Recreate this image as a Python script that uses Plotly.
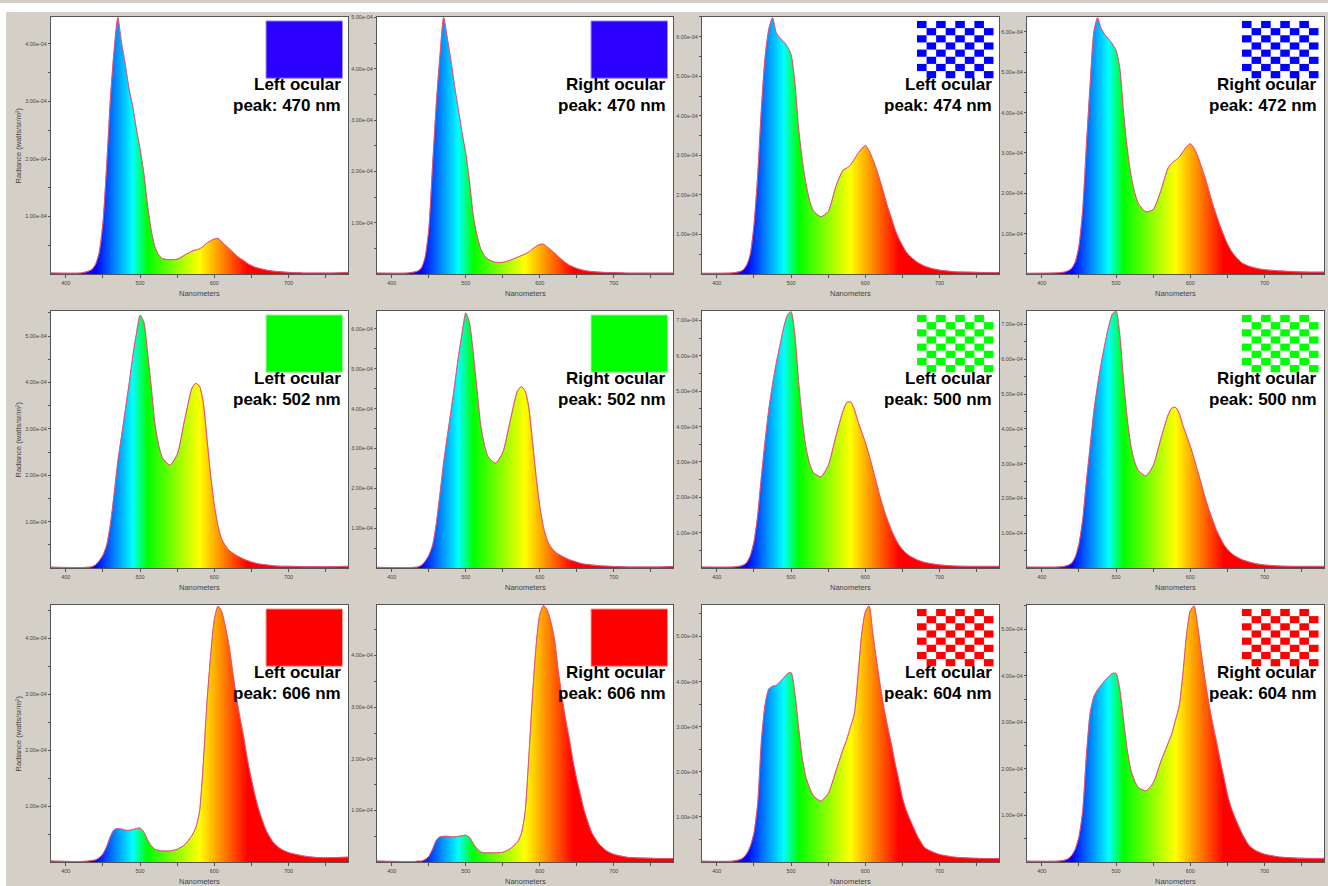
import numpy as np
import plotly.graph_objects as go

W, H = 1328, 886

# ---------------- data (radiance in units of 1e-4 W/sr/m^2) ----------------
WAVELENGTHS = [380, 420, 430, 435, 440, 445, 450, 455, 460, 465,
               470, 475, 480, 485, 490, 495, 500, 505, 510, 515,
               520, 525, 530, 540, 550, 560, 570, 575, 580, 585,
               590, 595, 600, 605, 610, 615, 620, 625, 630, 635,
               640, 645, 650, 655, 660, 670, 680, 690, 700, 720,
               740, 760, 780]

BLUE_LEFT = [0.02, 0.02, 0.05, 0.08, 0.17, 0.38, 0.9, 1.9, 3.05, 3.9,
             4.46, 4.02, 3.65, 3.23, 2.92, 2.52, 2.17, 1.75, 1.2, 0.76,
             0.47, 0.33, 0.27, 0.25, 0.26, 0.33, 0.40, 0.42, 0.44, 0.48,
             0.54, 0.58, 0.61, 0.62, 0.56, 0.5, 0.44, 0.38, 0.32, 0.27,
             0.23, 0.18, 0.15, 0.12, 0.10, 0.07, 0.05, 0.04, 0.03, 0.02,
             0.02, 0.02, 0.03]
BLUE_RIGHT = [0.02, 0.02, 0.04, 0.06, 0.12, 0.33, 0.88, 2.1, 3.3, 4.25,
              5.0, 4.6, 4.15, 3.65, 3.2, 2.75, 2.35, 1.8, 1.15, 0.76,
              0.5, 0.36, 0.29, 0.23, 0.23, 0.27, 0.33, 0.36, 0.39, 0.43,
              0.49, 0.54, 0.58, 0.58, 0.53, 0.47, 0.41, 0.34, 0.28, 0.22,
              0.17, 0.14, 0.11, 0.09, 0.07, 0.05, 0.04, 0.03, 0.03, 0.02,
              0.02, 0.02, 0.02]
BLUE_CHK_LEFT = [0.02, 0.03, 0.06, 0.1, 0.22, 0.5, 1.25, 2.5, 4.2, 5.5,
                 6.2, 6.48, 6.1, 5.97, 5.88, 5.75, 5.55, 4.85, 3.7, 2.88,
                 2.28, 1.85, 1.6, 1.45, 1.58, 2.2, 2.63, 2.68, 2.76, 2.9,
                 3.05, 3.17, 3.25, 3.12, 2.9, 2.65, 2.35, 2.03, 1.7, 1.42,
                 1.13, 0.9, 0.72, 0.56, 0.45, 0.3, 0.2, 0.14, 0.1, 0.06,
                 0.05, 0.04, 0.04]
BLUE_CHK_RIGHT = [0.02, 0.03, 0.05, 0.08, 0.14, 0.3, 0.7, 1.6, 3.2, 4.7,
                  6.0, 6.35, 6.08, 5.93, 5.82, 5.7, 5.54, 5.1, 4.0, 3.1,
                  2.45, 2.02, 1.75, 1.54, 1.6, 2.05, 2.63, 2.75, 2.82, 2.9,
                  3.03, 3.16, 3.23, 3.12, 2.92, 2.65, 2.38, 2.06, 1.74, 1.46,
                  1.2, 0.96, 0.74, 0.58, 0.45, 0.27, 0.19, 0.14, 0.11, 0.08,
                  0.06, 0.05, 0.05]
GREEN_LEFT = [0.02, 0.01, 0.02, 0.03, 0.07, 0.16, 0.28, 0.5, 0.95, 1.6,
              2.3, 2.85, 3.4, 3.95, 4.55, 5.05, 5.45, 5.3, 4.65, 3.9,
              3.1, 2.65, 2.38, 2.22, 2.45, 3.2, 3.88, 3.98, 3.92, 3.58,
              2.8, 2.0, 1.35, 0.9, 0.62, 0.48, 0.38, 0.32, 0.27, 0.23,
              0.19, 0.16, 0.13, 0.11, 0.09, 0.07, 0.05, 0.04, 0.04, 0.03,
              0.03, 0.03, 0.04]
GREEN_RIGHT = [0.02, 0.01, 0.02, 0.03, 0.07, 0.17, 0.32, 0.57, 1.1, 1.85,
               2.65, 3.3, 3.95, 4.6, 5.3, 5.9, 6.4, 6.15, 5.4, 4.5,
               3.6, 3.1, 2.8, 2.63, 2.9, 3.7, 4.45, 4.55, 4.45, 4.05,
               3.2, 2.3, 1.55, 1.02, 0.7, 0.53, 0.42, 0.35, 0.3, 0.25,
               0.21, 0.18, 0.15, 0.12, 0.1, 0.08, 0.06, 0.05, 0.04, 0.03,
               0.03, 0.03, 0.04]
GREEN_CHK_LEFT = [0.03, 0.03, 0.05, 0.08, 0.15, 0.35, 0.75, 1.5, 2.6, 3.6,
                  4.5, 5.2, 5.8, 6.3, 6.8, 7.15, 7.25, 6.6, 5.3, 4.2,
                  3.4, 2.95, 2.7, 2.58, 2.9, 3.7, 4.45, 4.68, 4.7, 4.5,
                  4.15, 3.85, 3.55, 3.2, 2.8, 2.4, 2.0, 1.65, 1.35, 1.08,
                  0.85, 0.66, 0.52, 0.42, 0.34, 0.23, 0.16, 0.12, 0.09, 0.06,
                  0.05, 0.05, 0.05]
GREEN_CHK_RIGHT = [0.03, 0.03, 0.05, 0.08, 0.14, 0.32, 0.7, 1.4, 2.5, 3.5,
                   4.5, 5.25, 5.9, 6.45, 6.95, 7.3, 7.38, 6.7, 5.4, 4.3,
                   3.5, 3.05, 2.8, 2.65, 2.95, 3.7, 4.4, 4.6, 4.62, 4.45,
                   4.1, 3.8, 3.5, 3.15, 2.78, 2.4, 2.02, 1.68, 1.38, 1.1,
                   0.88, 0.68, 0.54, 0.43, 0.35, 0.24, 0.17, 0.12, 0.09, 0.06,
                   0.05, 0.05, 0.05]
RED_LEFT = [0.02, 0.01, 0.02, 0.03, 0.04, 0.08, 0.15, 0.28, 0.46, 0.58,
            0.6, 0.59, 0.57, 0.57, 0.58, 0.6, 0.61, 0.54, 0.4, 0.29,
            0.23, 0.21, 0.2, 0.2, 0.23, 0.31, 0.48, 0.62, 0.9, 1.75,
            2.85, 3.7, 4.35, 4.58, 4.48, 4.2, 3.85, 3.38, 2.92, 2.55,
            2.2, 1.8, 1.48, 1.18, 0.93, 0.56, 0.34, 0.23, 0.17, 0.11,
            0.08, 0.08, 0.09]
RED_RIGHT = [0.02, 0.01, 0.01, 0.02, 0.02, 0.05, 0.11, 0.25, 0.42, 0.49,
             0.5, 0.5, 0.49, 0.49, 0.5, 0.51, 0.52, 0.48, 0.36, 0.26,
             0.2, 0.18, 0.18, 0.18, 0.19, 0.26, 0.39, 0.55, 0.95, 2.0,
             3.2, 4.2, 4.8, 4.97, 4.88, 4.65, 4.3, 3.7, 3.2, 2.75,
             2.38, 1.95, 1.6, 1.3, 1.0, 0.58, 0.35, 0.22, 0.15, 0.09,
             0.08, 0.07, 0.07]
RED_CHK_LEFT = [0.02, 0.02, 0.05, 0.09, 0.18, 0.35, 0.65, 1.3, 2.7, 3.5,
                3.84, 3.9, 3.92, 4.0, 4.08, 4.18, 4.2, 3.75, 3.0, 2.3,
                1.88, 1.64, 1.47, 1.35, 1.52, 2.0, 2.5, 2.72, 3.0, 3.27,
                4.1, 5.05, 5.55, 5.68, 5.08, 4.48, 3.92, 3.42, 3.0, 2.62,
                2.2, 1.82, 1.42, 1.15, 0.95, 0.58, 0.32, 0.23, 0.17, 0.11,
                0.09, 0.08, 0.08]
RED_CHK_RIGHT = [0.02, 0.02, 0.04, 0.07, 0.14, 0.28, 0.55, 1.1, 2.3, 3.2,
                 3.55, 3.7, 3.8, 3.9, 3.98, 4.05, 4.05, 3.7, 3.05, 2.4,
                 1.97, 1.74, 1.6, 1.53, 1.7, 2.15, 2.55, 2.75, 3.05, 3.35,
                 4.05, 4.9, 5.4, 5.5, 5.05, 4.45, 3.9, 3.4, 2.98, 2.6,
                 2.2, 1.83, 1.45, 1.17, 0.96, 0.6, 0.34, 0.23, 0.17, 0.11,
                 0.09, 0.08, 0.08]

SERIES = [BLUE_LEFT, BLUE_RIGHT, BLUE_CHK_LEFT, BLUE_CHK_RIGHT,
          GREEN_LEFT, GREEN_RIGHT, GREEN_CHK_LEFT, GREEN_CHK_RIGHT,
          RED_LEFT, RED_RIGHT, RED_CHK_LEFT, RED_CHK_RIGHT]
EYES = ["Left ocular", "Right ocular"] * 6
PEAKS = [470, 470, 474, 472, 502, 502, 500, 500, 606, 606, 604, 604]
STIM_COLORS = ["#2B00FF", "#2B00FF", "#0000FF", "#0000FF",
               "#00FF00", "#00FF00", "#00FF00", "#00FF00",
               "#FF0000", "#FF0000", "#FF0000", "#FF0000"]
STIM_EDGE = ["#9A8FFF", "#9A8FFF", None, None,
             "#9AFF9A", "#9AFF9A", None, None,
             "#FF9A9A", "#FF9A9A", None, None]
STIM_PATTERN = ["solid", "solid", "checker", "checker"] * 3
YMAX = [4.47, 5.01, 6.5, 6.37, 5.54, 6.45, 7.27, 7.39, 4.6, 4.98, 5.7, 5.52]
UNIT = 1e-4

X_TICKS = [400, 450, 500, 550, 600, 650, 700, 750]
X_TICK_TEXT = ["400", "", "500", "", "600", "", "700", ""]
X_TITLE = "Nanometers"
Y_TITLE = "Radiance (watts/sr/m²)"

# spectral colour map (wavelength -> RGB)
SPEC_WL = [380, 420, 440, 490, 510, 580, 645, 780]
SPEC_RGB = ["rgb(110,0,150)", "rgb(90,0,255)", "rgb(0,0,255)", "rgb(0,255,255)",
            "rgb(0,255,0)", "rgb(255,255,0)", "rgb(255,0,0)", "rgb(255,0,0)"]

# ---------------- layout geometry (pixels) ----------------
COL_PX = [(51, 348), (377, 673), (702, 999), (1027, 1324)]
ROW_PX = [(14, 272), (309, 567), (604, 862)]

BG = "#D4D0C8"
TICK_FONT = dict(family="Liberation Sans, Arial", size=5.5, color="#444444")
AX_FONT = dict(family="Liberation Sans, Arial", size=7.5, color="#444444")
LBL_FONT = dict(family="Liberation Sans, Arial", size=17, color="#000000")
OUTLINE = "rgb(228,80,120)"


def px(x):
    return x / W


def py(y):
    return 1 - y / H


colorscale = [[(w - 380) / 400, c] for w, c in zip(SPEC_WL, SPEC_RGB)]
grid = np.arange(379, 782, 1.0)

fig = go.Figure()
layout = dict(width=W, height=H, margin=dict(l=0, r=0, t=0, b=0),
              paper_bgcolor=BG, plot_bgcolor="white", showlegend=False)
shapes = [
    dict(type="rect", xref="paper", yref="paper", x0=0, x1=1, y0=py(9), y1=1,
         fillcolor="white", line=dict(width=0), layer="below"),
    dict(type="rect", xref="paper", yref="paper", x0=0, x1=px(6), y0=0, y1=1,
         fillcolor="white", line=dict(width=0), layer="below"),
]
annotations = []

for i, vals in enumerate(SERIES):
    r, c = divmod(i, 4)
    x0p, x1p = COL_PX[c]
    y0p, y1p = ROW_PX[r]
    n = i + 1
    xa, ya = f"x{n}", f"y{n}"
    ymax = YMAX[i] * UNIT
    yv = np.array(vals) * UNIT
    spline = dict(shape="spline", smoothing=0.6)

    fig.add_trace(go.Heatmap(x=grid, y=[0, ymax * 1.3], z=[grid, grid],
                             colorscale=colorscale, zmin=380, zmax=780,
                             showscale=False, hoverinfo="skip",
                             xaxis=xa, yaxis=ya))
    # spectrum edge, then a white mask filled from the top down to it
    fig.add_trace(go.Scatter(x=WAVELENGTHS, y=yv, mode="lines",
                             line=dict(color=OUTLINE, width=0.5, **spline),
                             hoverinfo="skip", xaxis=xa, yaxis=ya))
    fig.add_trace(go.Scatter(x=WAVELENGTHS, y=[ymax * 2] * len(WAVELENGTHS),
                             mode="lines", line=dict(width=0),
                             fill="tonexty", fillcolor="white",
                             hoverinfo="skip", xaxis=xa, yaxis=ya))
    fig.add_trace(go.Scatter(x=WAVELENGTHS, y=yv, mode="lines",
                             line=dict(color=OUTLINE, width=1, **spline),
                             xaxis=xa, yaxis=ya))

    ticks = [k * 0.5 for k in range(1, int(YMAX[i] * 2) + 1)]
    layout[f"xaxis{n}"] = dict(
        domain=[px(x0p), px(x1p)], anchor=ya, range=[380, 780],
        tickmode="array", tickvals=X_TICKS, ticktext=X_TICK_TEXT,
        ticks="outside", ticklen=3, tickcolor="#555", tickfont=TICK_FONT,
        showline=True, mirror=True, linecolor="#555", linewidth=1,
        showgrid=False, zeroline=False, fixedrange=True)
    layout[f"yaxis{n}"] = dict(
        domain=[py(y1p), py(y0p)], anchor=xa, range=[0, ymax],
        tickmode="array", tickvals=[t * UNIT for t in ticks],
        ticktext=[f"{t:.2f}e-04" if t == int(t) else "" for t in ticks],
        ticks="outside", ticklen=2, tickcolor="#555", tickfont=TICK_FONT,
        showline=True, mirror=True, linecolor="#555", linewidth=1,
        showgrid=False, zeroline=False, fixedrange=True)

    # x axis title
    annotations.append(dict(text=X_TITLE, xref="paper", yref="paper",
                            x=px((x0p + x1p) / 2), y=py(y1p + 19.5),
                            xanchor="center", yanchor="middle",
                            showarrow=False, font=AX_FONT))
    if c == 0:
        annotations.append(dict(text=Y_TITLE, xref="paper", yref="paper",
                                x=px(19), y=py((y0p + y1p) / 2), textangle=-90,
                                xanchor="center", yanchor="middle",
                                showarrow=False, font=AX_FONT))

    # stimulus swatch
    bx1 = x1p - 5.5
    bx0 = bx1 - 76.5
    by0 = y0p + 4
    by1 = y0p + 61.5
    if STIM_PATTERN[i] == "solid":
        shapes.append(dict(type="rect", xref="paper", yref="paper",
                           x0=px(bx0), x1=px(bx1), y0=py(by1), y1=py(by0),
                           fillcolor=STIM_COLORS[i],
                           line=dict(color=STIM_EDGE[i], width=1)))
    else:
        nc, nr = 8, 8
        cw = (bx1 - bx0) / nc
        ch = (by1 - by0) / nr
        for rr in range(nr):
            for cc in range(nc):
                if (rr + cc) % 2 == 0:
                    shapes.append(dict(type="rect", xref="paper", yref="paper",
                                       x0=px(bx0 + cc * cw), x1=px(bx0 + (cc + 1) * cw),
                                       y0=py(by0 + (rr + 1) * ch), y1=py(by0 + rr * ch),
                                       fillcolor=STIM_COLORS[i], line=dict(width=0)))

    # label text
    annotations.append(dict(text=f"<b>{EYES[i]}</b>", xref="paper", yref="paper",
                            x=px(x1p - 5), y=py(y0p + 67.5), xanchor="right",
                            yanchor="middle", showarrow=False, font=LBL_FONT))
    annotations.append(dict(text=f"<b>peak: {PEAKS[i]} nm</b>", xref="paper",
                            yref="paper", x=px(x1p - 5), y=py(y0p + 88.5),
                            xanchor="right", yanchor="middle", showarrow=False,
                            font=LBL_FONT))

layout["shapes"] = shapes
layout["annotations"] = annotations
fig.update_layout(**layout)
fig.write_html("out.html", config={"displayModeBar": False},
               post_script="document.body.style.margin='0';"
                           "document.body.style.padding='0';")
